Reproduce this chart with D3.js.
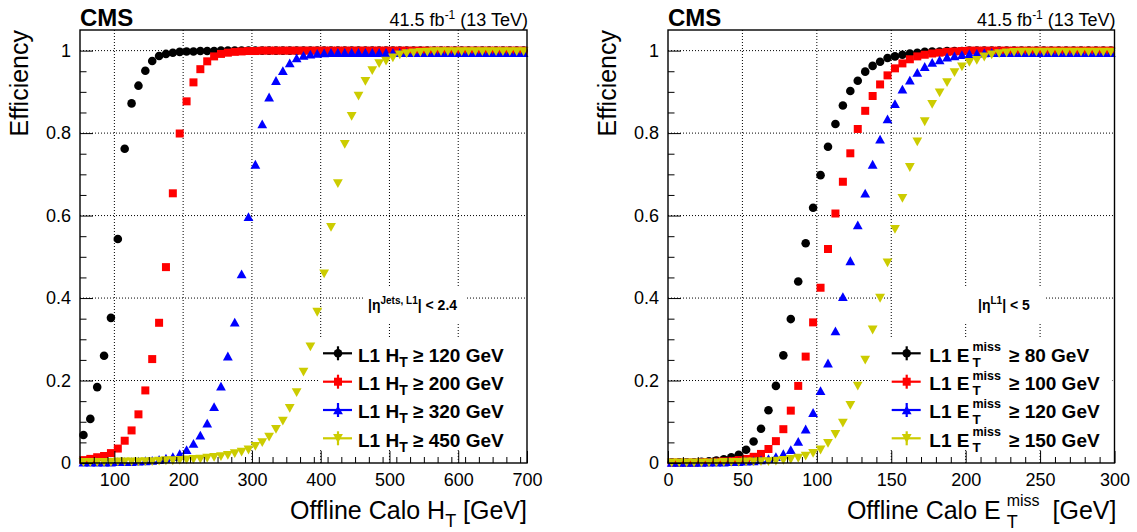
<!DOCTYPE html>
<html><head><meta charset="utf-8">
<script src="https://cdn.jsdelivr.net/npm/d3@7"></script>
<style>body{margin:0;background:#fff} svg{display:block} text{font-family:"Liberation Sans",Arial,Helvetica,sans-serif}</style>
</head><body><svg id="c" width="1137" height="532"></svg>
<script>
// ---------------- data ----------------
const htBins=[55,65,75,85,95,105,115,125,135,145,
155,165,175,185,195,205,215,225,235,245,
255,265,275,285,295,305,315,325,335,345,
355,365,375,385,395,405,415,425,435,445,
455,465,475,485,495,505,515,525,535,545,
555,565,575,585,595,605,615,625,635,645,
655,665,675,685,695];
const effHT120=[0.068,0.107,0.184,0.260,0.352,0.543,0.762,0.872,0.915,0.951,
0.975,0.987,0.992,0.995,0.997,0.998,0.998,0.999,0.999,0.999,
1,1,1,1,1,1,1,1,1,1,
1,1,1,1,1,1,1,1,1,1,
1,1,1,1,1,1,1,1,1,1,
1,1,1,1,1,1,1,1,1,1,
1,1,1,1,1];
const effHT200=[0.007,0.010,0.014,0.017,0.024,0.035,0.054,0.079,0.118,0.176,
0.252,0.340,0.475,0.654,0.799,0.877,0.923,0.955,0.974,0.986,
0.992,0.995,0.997,0.998,0.999,0.999,1,1,1,1,
1,1,1,1,1,1,1,1,1,1,
1,1,1,1,1,1,1,1,1,1,
1,1,1,1,1,1,1,1,1,1,
1,1,1,1,1];
const effHT320=[0.002,0.002,0.002,0.002,0.002,0.003,0.003,0.003,0.004,0.005,
0.006,0.008,0.011,0.015,0.022,0.032,0.047,0.067,0.096,0.136,
0.186,0.259,0.341,0.458,0.597,0.724,0.822,0.887,0.927,0.951,
0.970,0.982,0.988,0.991,0.993,0.994,0.995,0.995,0.995,0.995,
0.995,0.995,0.995,0.995,0.995,0.995,0.995,0.995,0.995,0.995,
0.995,0.995,0.995,0.995,0.995,0.995,0.995,0.995,0.995,0.995,
0.995,0.995,0.995,0.995,0.995];
const effHT450=[0.002,0.002,0.002,0.002,0.002,0.003,0.003,0.003,0.003,0.004,
0.004,0.005,0.006,0.006,0.007,0.008,0.009,0.010,0.012,0.014,
0.016,0.019,0.023,0.027,0.032,0.041,0.050,0.063,0.082,0.102,
0.133,0.171,0.221,0.282,0.366,0.459,0.572,0.678,0.773,0.841,
0.890,0.926,0.952,0.969,0.975,0.983,0.990,0.993,0.995,0.996,
0.997,0.998,0.998,0.998,0.998,0.998,0.998,0.998,0.998,0.998,
0.998,0.998,0.998,0.998,0.998];

const metBins=[2.5,7.5,12.5,17.5,22.5,27.5,32.5,37.5,42.5,47.5,
52.5,57.5,62.5,67.5,72.5,77.5,82.5,87.5,92.5,97.5,
102.5,107.5,112.5,117.5,122.5,127.5,132.5,137.5,142.5,147.5,
152.5,157.5,162.5,167.5,172.5,177.5,182.5,187.5,192.5,197.5,
202.5,207.5,212.5,217.5,222.5,227.5,232.5,237.5,242.5,247.5,
252.5,257.5,262.5,267.5,272.5,277.5,282.5,287.5,292.5,297.5];
const effMET80=[0.002,0.002,0.002,0.002,0.003,0.004,0.006,0.009,0.014,0.020,
0.032,0.052,0.083,0.128,0.187,0.261,0.349,0.440,0.533,0.619,
0.698,0.767,0.822,0.867,0.902,0.927,0.949,0.963,0.973,0.982,
0.986,0.990,0.993,0.995,0.997,0.998,0.998,0.999,0.999,0.999,
1,1,1,1,1,1,1,1,1,1,
1,1,1,1,1,1,1,1,1,1];
const effMET100=[0.001,0.001,0.001,0.001,0.002,0.002,0.003,0.004,0.005,0.007,
0.010,0.015,0.022,0.034,0.053,0.082,0.127,0.187,0.258,0.341,
0.425,0.519,0.605,0.682,0.751,0.810,0.854,0.890,0.918,0.940,
0.957,0.969,0.979,0.986,0.990,0.993,0.995,0.997,0.998,0.999,
1,1,1,1,1,1,1,1,1,1,
1,1,1,1,1,1,1,1,1,1];
const effMET120=[0.001,0.001,0.001,0.001,0.001,0.002,0.002,0.002,0.003,0.003,
0.004,0.005,0.007,0.010,0.015,0.022,0.032,0.052,0.082,0.122,
0.175,0.242,0.320,0.403,0.490,0.577,0.654,0.724,0.785,0.834,
0.871,0.906,0.928,0.947,0.961,0.971,0.977,0.984,0.987,0.990,
0.992,0.993,0.994,0.995,0.995,0.995,0.995,0.995,0.995,0.995,
0.995,0.995,0.995,0.995,0.995,0.995,0.995,0.995,0.995,0.995];
const effMET150=[0.001,0.001,0.001,0.001,0.001,0.001,0.001,0.002,0.002,0.002,
0.003,0.003,0.004,0.004,0.005,0.007,0.009,0.012,0.017,0.024,
0.032,0.048,0.070,0.097,0.140,0.187,0.250,0.323,0.400,0.486,
0.567,0.642,0.717,0.779,0.828,0.870,0.898,0.923,0.947,0.961,
0.972,0.977,0.985,0.990,0.993,0.995,0.996,0.997,0.997,0.997,
0.997,0.997,0.997,0.997,0.997,0.997,0.997,0.997,0.997,0.997];

const htTicks=[100,200,300,400,500,600,700];
const metTicks=[0,50,100,150,200,250,300];
const effTicks=[0,0.2,0.4,0.6,0.8,1];
const htThresholds=["120","200","320","450"];
const metThresholds=["80","100","120","150"];
const seriesColors=["#000000","#ff0000","#0000ff","#cccc00"];

// ---------------- drawing ----------------
const svg=d3.select("#c");
const yTop=30,yBot=463;
const markerPaths=[
  d3.symbol(d3.symbolCircle,58)(),
  "M-4,-4h8v8h-8z",
  "M0,-4.6L4.9,4.2L-4.9,4.2Z",
  "M0,4.6L4.9,-4.2L-4.9,-4.2Z"
];

function txt(parent,x,y,size,weight){
  return parent.append("text").attr("x",x).attr("y",y).attr("font-size",size)
    .attr("font-weight",weight||"normal").attr("fill","#000").style("white-space","pre");
}

function drawPanel(p){
  const x=d3.scaleLinear().domain(p.domain).range([p.x0,p.x1]);
  const y=d3.scaleLinear().domain([0,1.05]).range([yBot,yTop]);
  const g=svg.append("g");

  // grid
  const grid=g.append("g").attr("stroke","#000").attr("stroke-width",1).attr("stroke-dasharray","1,2");
  p.xTicks.filter(t=>t>p.domain[0]&&t<p.domain[1]).forEach(t=>
    grid.append("line").attr("x1",x(t)).attr("x2",x(t)).attr("y1",yTop).attr("y2",yBot));
  effTicks.filter(t=>t>0).forEach(t=>
    grid.append("line").attr("x1",p.x0).attr("x2",p.x1).attr("y1",y(t)).attr("y2",y(t)));

  // label box (eta)
  g.append("rect").attr("x",p.etaBox[0]).attr("y",288).attr("width",p.etaBox[1]-p.etaBox[0]).attr("height",36).attr("fill","#fff");

  // data
  p.series.forEach((vals,i)=>{
    g.append("g").selectAll("path").data(p.bins.map((b,j)=>[b,vals[j]])).join("path")
      .attr("d",markerPaths[i]).attr("fill",seriesColors[i])
      .attr("transform",d=>`translate(${x(d[0])},${y(d[1])})`);
  });

  // legend box
  g.append("rect").attr("x",p.legX-18).attr("y",338).attr("width",p.x1-2-(p.legX-18)).attr("height",112).attr("fill","#fff");
  const rowsY=[353.3,381.7,410,438.3];
  p.thresholds.forEach((t,i)=>{
    const cy=rowsY[i];
    const lg=g.append("g");
    lg.append("line").attr("x1",p.legX-15).attr("x2",p.legX+14).attr("y1",cy).attr("y2",cy).attr("stroke",seriesColors[i]).attr("stroke-width",2.2);
    lg.append("line").attr("x1",p.legX).attr("x2",p.legX).attr("y1",cy-7).attr("y2",cy+7).attr("stroke",seriesColors[i]).attr("stroke-width",2.2);
    lg.append("path").attr("d",markerPaths[i]).attr("fill",seriesColors[i]).attr("transform",`translate(${p.legX},${cy})`);
    const tb=cy+8.4;
    if(p.kind==="ht"){
      const t1=txt(lg,p.legX+20,tb,19,"bold");
      t1.append("tspan").text("L1 H");
      t1.append("tspan").attr("font-size",14).attr("dy",5).text("T");
      t1.append("tspan").attr("dy",-5).text(" \u2265 "+t+" GeV");
    } else {
      const t1=txt(lg,p.legX+22.6,tb,19,"bold").text("L1 E");
      const w1=t1.node().getComputedTextLength();
      const xs=p.legX+22.6+w1+3;
      const sup=txt(lg,xs,tb-10.5,12.5,"bold").text("miss");
      txt(lg,xs,tb+5.2,13.5,"bold").text("T");
      const ws=sup.node().getComputedTextLength();
      txt(lg,xs+ws+8,tb,19,"bold").text("\u2265 "+t+" GeV");
    }
  });

  // eta label
  const et=txt(g,p.etaX,310,14,"bold");
  et.append("tspan").text("|\u03b7");
  et.append("tspan").attr("font-size",10).attr("dy",-6).text(p.etaSup);
  et.append("tspan").attr("dy",6).text(p.etaRest);

  // axes
  const ax=g.append("g").attr("transform",`translate(0,${yBot})`)
    .call(d3.axisBottom(x).tickValues(p.xTicks).tickSize(-12).tickSizeOuter(0).tickPadding(10).tickFormat(d3.format("d")));
  const axm=g.append("g").attr("transform",`translate(0,${yBot})`)
    .call(d3.axisBottom(x).tickValues(d3.range(p.domain[0],p.domain[1]+1e-6,p.minorStep).filter(v=>!p.xTicks.includes(v))).tickSize(-6).tickSizeOuter(0).tickFormat(""));
  const ay=g.append("g").attr("transform",`translate(${p.x0},0)`)
    .call(d3.axisLeft(y).tickValues(effTicks).tickSize(-13).tickSizeOuter(0).tickPadding(9).tickFormat(d=>d===0?"0":d===1?"1":d3.format(".1f")(d)));
  const aym=g.append("g").attr("transform",`translate(${p.x0},0)`)
    .call(d3.axisLeft(y).tickValues(d3.range(0.05,1.001,0.05).filter(v=>Math.abs(v*5-Math.round(v*5))>1e-6)).tickSize(-6.5).tickSizeOuter(0).tickFormat(""));
  [ax,axm,ay,aym].forEach(a=>{
    a.attr("font-family",null).attr("font-size",18);
    a.selectAll(".domain").remove();
    a.selectAll(".tick line").attr("stroke","#000").attr("stroke-width",1);
    a.selectAll(".tick text").attr("fill","#000").attr("font-size",18);
  });

  // frame
  g.append("rect").attr("x",p.x0).attr("y",yTop).attr("width",p.x1-p.x0).attr("height",yBot-yTop)
    .attr("fill","none").attr("stroke","#000").attr("stroke-width",1.4);

  // header
  txt(g,p.x0,26,24,"bold").text("CMS");
  const lum=txt(g,p.x1+1,26,18).attr("text-anchor","end");
  lum.append("tspan").text("41.5 fb");
  lum.append("tspan").attr("font-size",12).attr("dy",-7).text("-1");
  lum.append("tspan").attr("dy",7).text(" (13 TeV)");

  // y title
  g.append("text").attr("transform",`translate(${p.x0-52},${yTop}) rotate(-90)`).attr("text-anchor","end")
    .attr("font-size",25).attr("fill","#000").text("Efficiency");

  // x title
  if(p.kind==="ht"){
    const xt=txt(g,p.x1,519,25).attr("text-anchor","end");
    xt.append("tspan").text("Offline Calo H");
    xt.append("tspan").attr("font-size",18).attr("dy",8).text("T");
    xt.append("tspan").attr("dy",-8).text(" [GeV]");
  } else {
    const xg=g.append("g");
    const a=txt(xg,0,519,25).text("Offline Calo E");
    const wa=a.node().getComputedTextLength();
    const s=txt(xg,wa+6,506,16).text("miss");
    txt(xg,wa+6,528,18).text("T");
    const ws=s.node().getComputedTextLength();
    const b=txt(xg,wa+6+ws+13,519,25).text("[GeV]");
    const wb=b.node().getComputedTextLength();
    const total=wa+6+ws+13+wb;
    xg.attr("transform",`translate(${p.x1+2-total},0)`);
  }
}

drawPanel({kind:"ht",x0:80,x1:527,domain:[50,700],xTicks:htTicks,minorStep:20,bins:htBins,
  series:[effHT120,effHT200,effHT320,effHT450],thresholds:htThresholds,legX:338,
  etaBox:[363,465],etaX:368,etaSup:"Jets, L1",etaRest:"| < 2.4"});
drawPanel({kind:"met",x0:668,x1:1114.5,domain:[0,300],xTicks:metTicks,minorStep:10,bins:metBins,
  series:[effMET80,effMET100,effMET120,effMET150],thresholds:metThresholds,legX:906.7,
  etaBox:[893,1046],etaX:978,etaSup:"L1",etaRest:"| < 5"});
</script>
</body></html>
